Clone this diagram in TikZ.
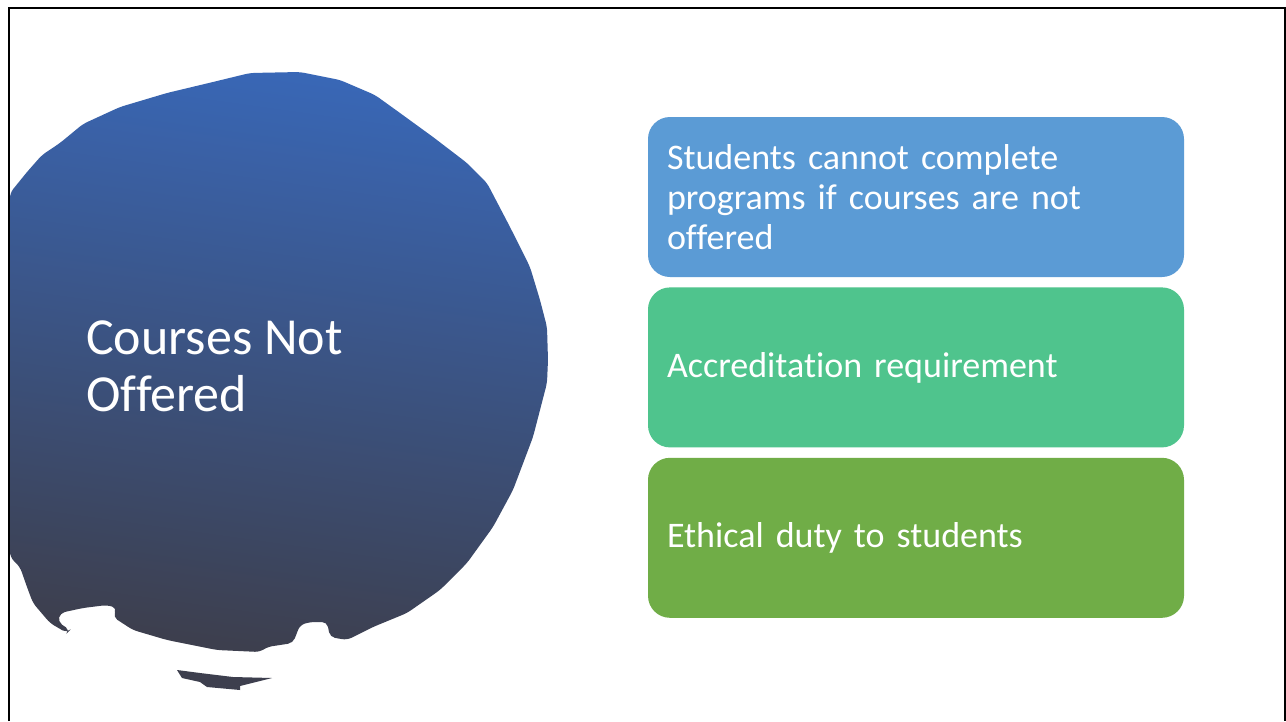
\documentclass[tikz,border=0pt]{standalone}
\usepackage{fontspec}
\setmainfont[Ligatures=NoCommon]{Carlito}
\usetikzlibrary{positioning}

\definecolor{blobtop}{HTML}{3967B6}
\definecolor{blobbottom}{HTML}{3D3F4E}
\definecolor{boxblue}{HTML}{5B9BD5}
\definecolor{boxteal}{HTML}{4FC48D}
\definecolor{boxgreen}{HTML}{70AD47}

\tikzset{
  item/.style={rounded corners=22pt,minimum width=536pt,minimum height=160pt,
    text width=498pt,inner xsep=19pt,align=left,text=white,
    font=\fontsize{36}{40}\selectfont},
  frameline/.style={line width=2pt,black}
}

\begin{document}
\begin{tikzpicture}[x=1pt,y=-1pt]
\useasboundingbox (0,0) rectangle (1286,721);
\fill[white] (0,0) rectangle (1286,721);
% frame
\draw[frameline](9,721)--(9,8)--(1285,8)--(1285,721);
% the blob
\shade[top color=blobtop,bottom color=blobbottom,shading angle=-8,rounded corners=5pt]
 (10,193)--(27,172)--(42,155)--(60,143)--(83,124)--(120,107)--(167,93)--(213,82)
 --(250,73)--(300,72)--(340,80)--(375,95)--(400,113)--(433,137)--(467,163)
 --(487,183)--(510,227)--(530,267)--(540,300)--(547,327)--(548,360)--(547,383)
 --(540,410)--(533,437)--(513,490)--(493,527)--(467,563)--(440,590)--(407,613)
 --(373,627)--(347,640)--(330,637)--(327,622)--(310,622)--(300,625)--(293,643)
 --(267,647)--(260,652)--(217,650)--(167,640)--(133,630)--(113,617)--(117,608)
 --(107,605)--(83,608)--(60,613)--(58,622)--(70,630)--(67,633)--(50,623)
 --(33,603)--(27,587)--(20,567)--(10,557)--cycle;
\fill[blobbottom](177,670)--(182,678)--(200,682)--(207,687)--(240,690)--(240,686)
 --(272,678)--(233,677)--(200,673)--cycle;
% title
\node[anchor=west,align=left,text=white,inner sep=0pt,
  font=\fontsize{52}{57}\selectfont] (title) at (86,366) {Courses Not\\Offered};
% boxes
\node[item,fill=boxblue] (students) at (916,197)
  {Students cannot complete\\programs if courses are not\\offered};
\node[item,fill=boxteal,below=10pt of students] (accred)
  {Accreditation requirement};
\node[item,fill=boxgreen,below=10pt of accred] (ethics)
  {Ethical duty to students};
\end{tikzpicture}
\end{document}
